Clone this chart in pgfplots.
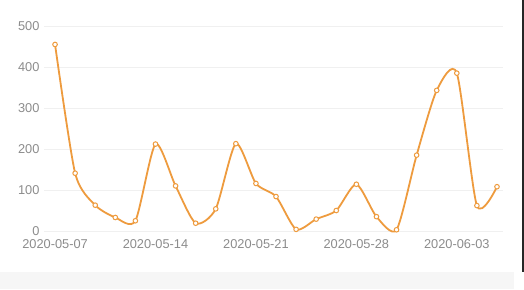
\documentclass[border=0pt]{standalone}
\usepackage{pgfplots}
\pgfplotsset{compat=1.18}
\usepackage{fontspec}
\setmainfont{Liberation Sans}
\definecolor{lineor}{RGB}{238,155,62}
\definecolor{tickgray}{RGB}{140,140,140}
\definecolor{gridc}{RGB}{240,240,240}
\definecolor{band}{RGB}{246,246,246}
\begin{document}
\begin{tikzpicture}[x=1pt,y=1pt]
\path[use as bounding box, fill=white] (0,0) rectangle (524,289);
\fill[band] (0,0) rectangle (514,17);
\fill[black!85] (522,17) rectangle (524,289);
\begin{axis}[
  at={(44pt,58pt)}, anchor=south west,
  scale only axis, width=459pt, height=205pt,
  xmin=-0.55, xmax=22.3, ymin=0, ymax=500,
  xtick={0,5,10,15,20},
  xticklabels={2020-05-07,2020-05-14,2020-05-21,2020-05-28,2020-06-03},
  ytick={0,100,200,300,400,500},
  axis line style={draw=none},
  axis x line*=bottom, axis y line*=left,
  tick style={draw=none},
  ymajorgrids, grid style={gridc, line width=0.8pt},
  tick label style={font=\fontsize{12.8}{15}\selectfont, text=tickgray},
  /pgf/number format/assume math mode=true,
  yticklabel style={xshift=-1pt},
  xticklabel style={yshift=-5pt},
  clip=false,
]
\draw[gridc, line width=0.8pt] (axis cs:-0.55,0) -- (axis cs:22.3,0);
\addplot[lineor, line width=1.8pt, smooth, tension=0.42,
  mark=*, mark size=2.3pt, mark options={fill=white, draw=lineor, line width=1pt}]
coordinates {
(0,455) (1,141) (2,63) (3,33) (4,25) (5,212) (6,110) (7,19) (8,54) (9,213)
(10,116) (11,84) (12,4) (13,29) (14,50) (15,114) (16,35) (17,3) (18,185)
(19,343) (20,385) (21,62) (22,108)
};
\end{axis}
\end{tikzpicture}
\end{document}
